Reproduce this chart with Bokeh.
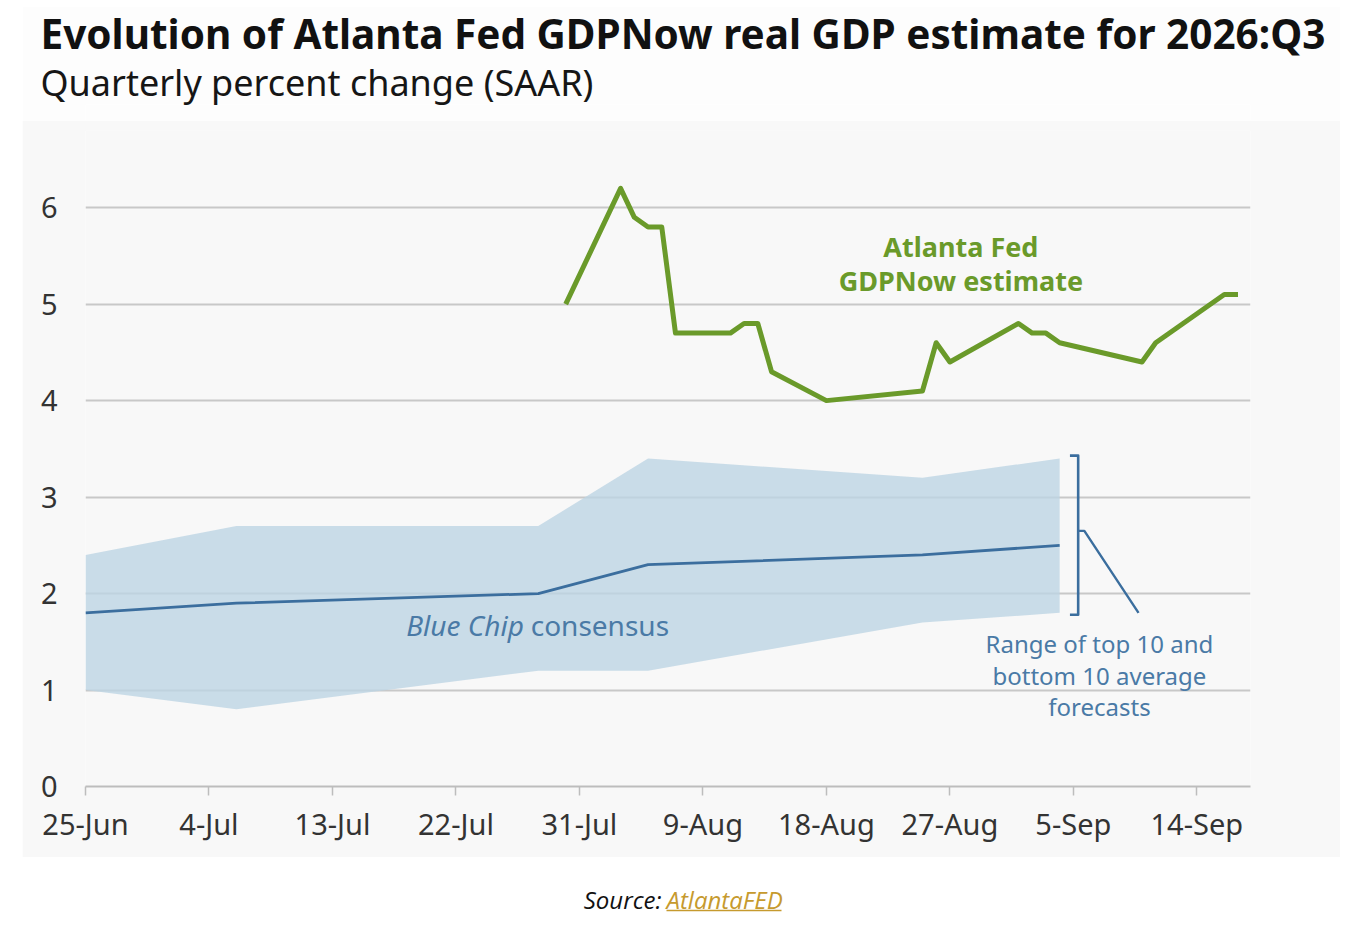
import pandas as pd
from bokeh.plotting import figure
from bokeh.models import Range1d, FixedTicker, Label, ColumnDataSource, Title
from bokeh.layouts import column
from bokeh.embed import file_html
from bokeh.resources import INLINE

# ---------------- data ----------------
start_date = "2026-06-25"

tick_dates = ["2026-06-25", "2026-07-04", "2026-07-13", "2026-07-22", "2026-07-31",
              "2026-08-09", "2026-08-18", "2026-08-27", "2026-09-05", "2026-09-14"]
tick_labels = ["25-Jun", "4-Jul", "13-Jul", "22-Jul", "31-Jul",
               "9-Aug", "18-Aug", "27-Aug", "5-Sep", "14-Sep"]
y_ticks = [0, 1, 2, 3, 4, 5, 6]

gdpnow_dates = ["2026-07-30", "2026-08-03", "2026-08-04", "2026-08-05", "2026-08-06",
                "2026-08-07", "2026-08-11", "2026-08-12", "2026-08-13", "2026-08-14",
                "2026-08-18", "2026-08-25", "2026-08-26", "2026-08-27", "2026-09-01",
                "2026-09-02", "2026-09-03", "2026-09-04", "2026-09-10", "2026-09-11",
                "2026-09-16", "2026-09-17"]
gdpnow_values = [5.0, 6.2, 5.9, 5.8, 5.8, 4.7, 4.7, 4.8, 4.8, 4.3,
                 4.0, 4.1, 4.6, 4.4, 4.8, 4.7, 4.7, 4.6, 4.4, 4.6, 5.1, 5.1]

bluechip_dates = ["2026-06-25", "2026-07-06", "2026-07-28", "2026-08-05", "2026-08-25", "2026-09-04"]
bluechip_consensus = [1.8, 1.9, 2.0, 2.3, 2.4, 2.5]
bluechip_top10 = [2.4, 2.7, 2.7, 3.4, 3.2, 3.4]
bluechip_bottom10 = [1.0, 0.8, 1.2, 1.2, 1.7, 1.8]

title_text = "Evolution of Atlanta Fed GDPNow real GDP estimate for 2026:Q3"
subtitle_text = "Quarterly percent change (SAAR)"

# ---------------- helpers ----------------
t0 = pd.Timestamp(start_date)


def to_days(dates):
    return [(pd.Timestamp(d) - t0).days for d in dates]


GREEN = "#6a9a2a"
BLUE = "#3b6e9e"
BAND = "#bdd4e4"
ANN = "#4a7aa6"
GRID = "#c8c8c8"
BG = "#f8f8f8"
FONT = "Noto Sans"
BL, BR = 63, 90   # frame borders shared by all stacked figures

# ---------------- title figure ----------------
ptitle = figure(width=1318, height=114, x_range=Range1d(0, 1), y_range=Range1d(0, 1),
                x_axis_location=None, y_axis_location=None,
                output_backend="svg", toolbar_location=None,
                min_border_left=BL, min_border_right=BR, min_border_top=0, min_border_bottom=0,
                margin=(6, 0, 0, 22))
ptitle.grid.visible = False
ptitle.outline_line_color = None
ptitle.background_fill_color = "#fdfdfd"
ptitle.border_fill_color = "#fdfdfd"
ptitle.add_layout(Title(text=subtitle_text, align="left", offset=-45, standoff=-5,
                        text_font=FONT, text_font_style="normal", text_font_size="36px",
                        text_color="#161616"), "above")
ptitle.add_layout(Title(text=title_text, align="left", offset=-45, standoff=-5,
                        text_font=FONT, text_font_style="bold", text_font_size="40.5px",
                        text_color="#111111"), "above")

# ---------------- main figure ----------------
p = figure(width=1318, height=737, x_range=Range1d(0, 84.91), y_range=Range1d(0, 6.8),
           output_backend="svg", toolbar_location=None,
           min_border_left=BL, min_border_right=BR, min_border_top=10, min_border_bottom=71,
           margin=(0, 0, 0, 22))
p.background_fill_color = BG
p.border_fill_color = BG
p.outline_line_color = None
p.xgrid.visible = False
p.ygrid.grid_line_color = GRID
p.ygrid.grid_line_width = 2
p.ygrid.ticker = FixedTicker(ticks=y_ticks)

p.yaxis.ticker = FixedTicker(ticks=y_ticks)
p.yaxis.axis_line_color = None
p.yaxis.major_tick_line_color = None
p.yaxis.minor_tick_line_color = None
p.yaxis.major_label_standoff = 22
p.yaxis.major_label_text_font = FONT
p.yaxis.major_label_text_font_size = "29px"
p.yaxis.major_label_text_color = "#333333"

tick_days = to_days(tick_dates)
p.xaxis.ticker = FixedTicker(ticks=tick_days)
p.xaxis.major_label_overrides = {d: lab for d, lab in zip(tick_days, tick_labels)}
p.xaxis.axis_line_color = "#bdbdbd"
p.xaxis.axis_line_width = 2
p.xaxis.major_tick_line_color = "#bdbdbd"
p.xaxis.major_tick_line_width = 1.5
p.xaxis.major_tick_in = 0
p.xaxis.major_tick_out = 9
p.xaxis.minor_tick_line_color = None
p.xaxis.major_label_standoff = 8
p.xaxis.major_label_text_font = FONT
p.xaxis.major_label_text_font_size = "29px"
p.xaxis.major_label_text_color = "#333333"

bc = ColumnDataSource(dict(x=to_days(bluechip_dates), mid=bluechip_consensus,
                           top=bluechip_top10, bot=bluechip_bottom10))
p.varea(x="x", y1="bot", y2="top", source=bc, fill_color=BAND, fill_alpha=0.8)
p.line(x="x", y="mid", source=bc, line_color=BLUE, line_width=2.8)

gd = ColumnDataSource(dict(x=to_days(gdpnow_dates), y=gdpnow_values))
p.line(x="x", y="y", source=gd, line_color=GREEN, line_width=5, line_join="round")

# bracket for range annotation (derived from the last Blue Chip values)
bx = to_days(bluechip_dates)[-1]
btop = bluechip_top10[-1]
bbot = bluechip_bottom10[-1]
bmid = (btop + bbot) / 2 + 0.05
vx = bx + 1.35
p.line(x=[vx - 0.6, vx, vx, vx - 0.6], y=[btop + 0.03, btop + 0.03, bbot - 0.02, bbot - 0.02],
       line_color=BLUE, line_width=2.6, line_join="round")
p.line(x=[vx, vx + 0.45, vx + 4.4], y=[bmid, bmid, bbot],
       line_color=BLUE, line_width=2.4, line_join="round")

# text annotations
p.add_layout(Label(x=63.8, y=5.6, text="Atlanta Fed", text_font=FONT, text_font_style="bold",
                   text_font_size="27px", text_color=GREEN, text_align="center",
                   text_baseline="middle"))
p.add_layout(Label(x=63.8, y=5.24, text="GDPNow estimate", text_font=FONT, text_font_style="bold",
                   text_font_size="27px", text_color=GREEN, text_align="center",
                   text_baseline="middle"))

p.add_layout(Label(x=31.95, y=1.67, text="Blue Chip", text_font=FONT, text_font_style="italic",
                   text_font_size="28px", text_color=ANN, text_align="right",
                   text_baseline="middle"))
p.add_layout(Label(x=32.45, y=1.67, text="consensus", text_font=FONT,
                   text_font_size="28px", text_color=ANN, text_align="left",
                   text_baseline="middle"))

for yy, line in zip([1.48, 1.15, 0.83], ["Range of top 10 and", "bottom 10 average", "forecasts"]):
    p.add_layout(Label(x=73.9, y=yy, text=line, text_font=FONT, text_font_size="24px",
                       text_color=ANN, text_align="center", text_baseline="middle"))

# ---------------- source figure ----------------
# frame aligned with the main frame; data units equal page pixels here
psrc = figure(width=1318, height=79, x_range=Range1d(85, 1250), y_range=Range1d(936, 857),
              x_axis_location=None, y_axis_location=None,
              output_backend="svg", toolbar_location=None,
              min_border_left=BL, min_border_right=BR, min_border_top=0, min_border_bottom=0,
              margin=(0, 0, 0, 22))
psrc.grid.visible = False
psrc.outline_line_color = None
psrc.background_fill_color = "white"
psrc.border_fill_color = "white"
psrc.add_layout(Label(x=661, y=899, text="Source:", text_font="Open Sans", text_font_style="italic",
                      text_font_size="24px", text_color="#111111", text_align="right",
                      text_baseline="middle"))
psrc.add_layout(Label(x=666, y=899, text="AtlantaFED", text_font="Open Sans", text_font_style="italic",
                      text_font_size="24px", text_color="#c69a2e", text_align="left",
                      text_baseline="middle"))
psrc.segment(x0=[666], y0=[910], x1=[781], y1=[910], line_color="#c69a2e", line_width=1.5)

layout = column(ptitle, p, psrc, spacing=0)

open("out.html", "w").write(file_html(layout, INLINE))
